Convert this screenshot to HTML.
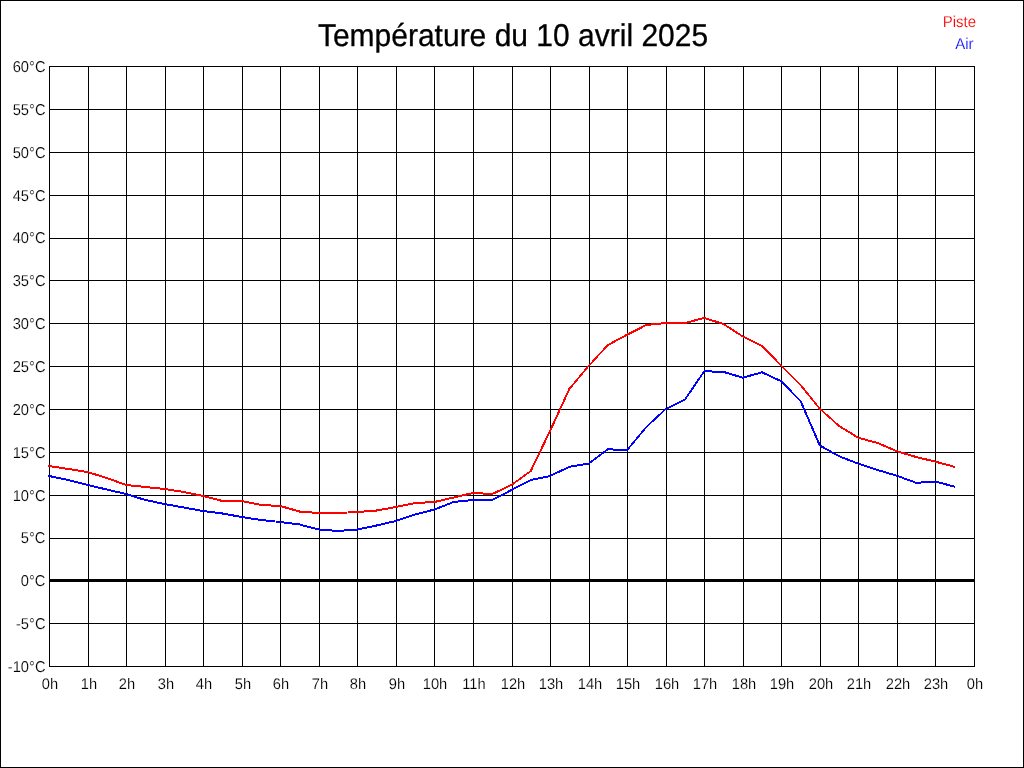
<!DOCTYPE html><html><head><meta charset="utf-8"><style>html,body{margin:0;padding:0;background:#fff;width:1024px;height:768px;overflow:hidden}svg{display:block}</style></head><body><svg width="1024" height="768" viewBox="0 0 1024 768" font-family="Liberation Sans, sans-serif"><rect x="0.5" y="0.5" width="1023" height="767" fill="#fff" stroke="#000" stroke-width="1" shape-rendering="crispEdges"/><path d="M49.5 66V667M88.5 66V667M126.5 66V667M165.5 66V667M203.5 66V667M242.5 66V667M280.5 66V667M319.5 66V667M357.5 66V667M396.5 66V667M434.5 66V667M473.5 66V667M512.5 66V667M550.5 66V667M589.5 66V667M627.5 66V667M666.5 66V667M704.5 66V667M743.5 66V667M781.5 66V667M820.5 66V667M858.5 66V667M897.5 66V667M935.5 66V667M974.5 66V667M49 66.5H975M49 109.5H975M49 152.5H975M49 195.5H975M49 238.5H975M49 280.5H975M49 323.5H975M49 366.5H975M49 409.5H975M49 452.5H975M49 495.5H975M49 538.5H975M49 623.5H975M49 666.5H975" stroke="#000" stroke-width="1" fill="none" shape-rendering="crispEdges"/><rect x="49" y="579" width="926" height="3" fill="#000" shape-rendering="crispEdges"/><g style="will-change:transform" text-rendering="geometricPrecision" font-size="15" fill="#000" stroke="#fff" stroke-width="0.15"><text transform="translate(45.5,72) scale(0.98,1.05)" text-anchor="end">60°C</text><text transform="translate(45.5,115) scale(0.98,1.05)" text-anchor="end">55°C</text><text transform="translate(45.5,158) scale(0.98,1.05)" text-anchor="end">50°C</text><text transform="translate(45.5,201) scale(0.98,1.05)" text-anchor="end">45°C</text><text transform="translate(45.5,243) scale(0.98,1.05)" text-anchor="end">40°C</text><text transform="translate(45.5,286) scale(0.98,1.05)" text-anchor="end">35°C</text><text transform="translate(45.5,329) scale(0.98,1.05)" text-anchor="end">30°C</text><text transform="translate(45.5,372) scale(0.98,1.05)" text-anchor="end">25°C</text><text transform="translate(45.5,415) scale(0.98,1.05)" text-anchor="end">20°C</text><text transform="translate(45.5,458) scale(0.98,1.05)" text-anchor="end">15°C</text><text transform="translate(45.5,501) scale(0.98,1.05)" text-anchor="end">10°C</text><text transform="translate(45.5,543) scale(0.98,1.05)" text-anchor="end">5°C</text><text transform="translate(45.5,586) scale(0.98,1.05)" text-anchor="end">0°C</text><text transform="translate(45.5,629) scale(0.98,1.05)" text-anchor="end">-5°C</text><text transform="translate(45.5,672) scale(0.98,1.05)" text-anchor="end">-10°C</text><text transform="translate(50,689) scale(0.98,1.02)" text-anchor="middle">0h</text><text transform="translate(89,689) scale(0.98,1.02)" text-anchor="middle">1h</text><text transform="translate(127,689) scale(0.98,1.02)" text-anchor="middle">2h</text><text transform="translate(166,689) scale(0.98,1.02)" text-anchor="middle">3h</text><text transform="translate(204,689) scale(0.98,1.02)" text-anchor="middle">4h</text><text transform="translate(243,689) scale(0.98,1.02)" text-anchor="middle">5h</text><text transform="translate(281,689) scale(0.98,1.02)" text-anchor="middle">6h</text><text transform="translate(320,689) scale(0.98,1.02)" text-anchor="middle">7h</text><text transform="translate(358,689) scale(0.98,1.02)" text-anchor="middle">8h</text><text transform="translate(397,689) scale(0.98,1.02)" text-anchor="middle">9h</text><text transform="translate(435,689) scale(0.98,1.02)" text-anchor="middle">10h</text><text transform="translate(474,689) scale(0.98,1.02)" text-anchor="middle">11h</text><text transform="translate(513,689) scale(0.98,1.02)" text-anchor="middle">12h</text><text transform="translate(551,689) scale(0.98,1.02)" text-anchor="middle">13h</text><text transform="translate(590,689) scale(0.98,1.02)" text-anchor="middle">14h</text><text transform="translate(628,689) scale(0.98,1.02)" text-anchor="middle">15h</text><text transform="translate(667,689) scale(0.98,1.02)" text-anchor="middle">16h</text><text transform="translate(705,689) scale(0.98,1.02)" text-anchor="middle">17h</text><text transform="translate(744,689) scale(0.98,1.02)" text-anchor="middle">18h</text><text transform="translate(782,689) scale(0.98,1.02)" text-anchor="middle">19h</text><text transform="translate(821,689) scale(0.98,1.02)" text-anchor="middle">20h</text><text transform="translate(859,689) scale(0.98,1.02)" text-anchor="middle">21h</text><text transform="translate(898,689) scale(0.98,1.02)" text-anchor="middle">22h</text><text transform="translate(936,689) scale(0.98,1.02)" text-anchor="middle">23h</text><text transform="translate(975,689) scale(0.98,1.02)" text-anchor="middle">0h</text></g><g style="will-change:transform" text-rendering="geometricPrecision" stroke="#fff" stroke-width="0.15"><text transform="translate(513,46) scale(1,1.05)" font-size="30" text-anchor="middle" fill="#000" stroke="#000" stroke-width="0.3">Température du 10 avril 2025</text><text transform="translate(976,27) scale(1,1.05)" font-size="15" text-anchor="end" fill="#f00">Piste</text><text transform="translate(973.5,49) scale(1,1.05)" font-size="15" text-anchor="end" fill="#00f">Air</text></g><path d="M49.00 475.50L68.27 479.50M49.00 476.50L68.27 480.50M68.27 479.50L87.54 484.50M68.27 480.50L87.54 485.50M87.54 484.50L106.81 489.00M87.54 485.50L106.81 490.00M106.81 489.00L126.08 493.50M106.81 490.00L126.08 494.50M126.08 493.50L145.35 499.50M126.08 494.50L145.35 500.50M145.35 499.50L164.62 503.50M145.35 500.50L164.62 504.50M164.62 503.50L183.90 507.00M164.62 504.50L183.90 508.00M183.90 507.00L203.17 510.50M183.90 508.00L203.17 511.50M203.17 510.50L222.44 513.00M203.17 511.50L222.44 514.00M222.44 513.00L241.71 516.50M222.44 514.00L241.71 517.50M241.71 516.50L260.98 519.50M241.71 517.50L260.98 520.50M260.98 519.50L280.25 521.50M260.98 520.50L280.25 522.50M280.25 521.50L299.52 524.00M280.25 522.50L299.52 525.00M299.52 524.00L318.79 529.00M299.52 525.00L318.79 530.00M318.79 529.00L338.06 530.50M318.79 530.00L338.06 531.50M338.06 530.50L357.33 529.00M338.06 531.50L357.33 530.00M357.33 529.00L376.60 525.00M357.33 530.00L376.60 526.00M376.60 525.00L395.88 520.50M376.60 526.00L395.88 521.50M395.88 520.50L415.15 514.00M395.88 521.50L415.15 515.00M415.15 514.00L434.42 509.00M415.15 515.00L434.42 510.00M434.42 509.00L453.69 501.50M434.42 510.00L453.69 502.50M453.69 501.50L472.96 499.50M453.69 502.50L472.96 500.50M472.96 499.50L492.23 499.50M472.96 500.50L492.23 500.50M492.23 499.50L511.50 489.50M492.23 500.50L511.50 490.50M511.50 489.50L530.77 479.50M511.50 490.50L530.77 480.50M530.77 479.50L550.04 475.50M530.77 480.50L550.04 476.50M550.04 475.50L569.31 466.30M550.04 476.50L569.31 467.30M569.31 466.30L588.58 463.10M569.31 467.30L588.58 464.10M588.58 463.10L607.85 448.80M588.58 464.10L607.85 449.80M607.85 448.80L627.12 449.50M607.85 449.80L627.12 450.50M626.62 450.00L645.90 427.00M627.62 450.00L646.90 427.00M646.40 426.50L665.67 408.50M646.40 427.50L665.67 409.50M665.67 408.50L684.94 399.10M665.67 409.50L684.94 400.10M684.44 399.60L703.71 371.25M685.44 399.60L704.71 371.25M704.21 370.75L723.48 371.40M704.21 371.75L723.48 372.40M723.48 371.40L742.75 377.20M723.48 372.40L742.75 378.20M742.75 377.20L762.02 371.80M742.75 378.20L762.02 372.80M762.02 371.80L781.29 380.75M762.02 372.80L781.29 381.75M780.79 381.25L800.06 401.00M781.79 381.25L801.06 401.00M800.06 401.00L819.33 445.50M801.06 401.00L820.33 445.50M819.83 445.00L839.10 455.75M819.83 446.00L839.10 456.75M839.10 455.75L858.38 463.25M839.10 456.75L858.38 464.25M858.38 463.25L877.65 469.50M858.38 464.25L877.65 470.50M877.65 469.50L896.92 475.30M877.65 470.50L896.92 476.30M896.92 475.30L916.19 482.30M896.92 476.30L916.19 483.30M916.19 482.30L935.46 481.10M916.19 483.30L935.46 482.10M935.46 481.10L954.73 486.20M935.46 482.10L954.73 487.20" fill="none" stroke="#00f" stroke-width="1" stroke-linecap="square" shape-rendering="crispEdges"/><path d="M49.00 465.50L68.27 468.50M49.00 466.50L68.27 469.50M68.27 468.50L87.54 471.50M68.27 469.50L87.54 472.50M87.54 471.50L106.81 477.50M87.54 472.50L106.81 478.50M106.81 477.50L126.08 484.50M106.81 478.50L126.08 485.50M126.08 484.50L145.35 486.50M126.08 485.50L145.35 487.50M145.35 486.50L164.62 488.50M145.35 487.50L164.62 489.50M164.62 488.50L183.90 491.50M164.62 489.50L183.90 492.50M183.90 491.50L203.17 495.50M183.90 492.50L203.17 496.50M203.17 495.50L222.44 500.50M203.17 496.50L222.44 501.50M222.44 500.50L241.71 500.50M222.44 501.50L241.71 501.50M241.71 500.50L260.98 504.50M241.71 501.50L260.98 505.50M260.98 504.50L280.25 505.50M260.98 505.50L280.25 506.50M280.25 505.50L299.52 511.00M280.25 506.50L299.52 512.00M299.52 511.00L318.79 512.50M299.52 512.00L318.79 513.50M318.79 512.50L338.06 512.50M318.79 513.50L338.06 513.50M338.06 512.50L357.33 511.50M338.06 513.50L357.33 512.50M357.33 511.50L376.60 510.00M357.33 512.50L376.60 511.00M376.60 510.00L395.88 506.50M376.60 511.00L395.88 507.50M395.88 506.50L415.15 502.50M395.88 507.50L415.15 503.50M415.15 502.50L434.42 501.50M415.15 503.50L434.42 502.50M434.42 501.50L453.69 497.00M434.42 502.50L453.69 498.00M453.69 497.00L472.96 492.50M453.69 498.00L472.96 493.50M472.96 492.50L492.23 493.50M472.96 493.50L492.23 494.50M492.23 493.50L511.50 484.50M492.23 494.50L511.50 485.50M511.50 484.50L530.77 470.50M511.50 485.50L530.77 471.50M530.27 471.00L549.54 431.00M531.27 471.00L550.54 431.00M549.54 431.00L568.81 389.00M550.54 431.00L569.81 389.00M568.81 389.00L588.08 366.00M569.81 389.00L589.08 366.00M588.08 366.00L607.35 345.00M589.08 366.00L608.35 345.00M607.85 344.50L627.12 334.20M607.85 345.50L627.12 335.20M627.12 334.20L646.40 324.50M627.12 335.20L646.40 325.50M646.40 324.50L665.67 322.50M646.40 325.50L665.67 323.50M665.67 322.50L684.94 322.50M665.67 323.50L684.94 323.50M684.94 322.50L704.21 317.50M684.94 323.50L704.21 318.50M704.21 317.50L723.48 323.50M704.21 318.50L723.48 324.50M723.48 323.50L742.75 336.00M723.48 324.50L742.75 337.00M742.75 336.00L762.02 345.50M742.75 337.00L762.02 346.50M761.52 346.00L780.79 365.60M762.52 346.00L781.79 365.60M780.79 365.60L800.06 385.00M781.79 365.60L801.06 385.00M800.06 385.00L819.33 408.80M801.06 385.00L820.33 408.80M819.83 408.30L839.10 425.50M819.83 409.30L839.10 426.50M839.10 425.50L858.38 437.30M839.10 426.50L858.38 438.30M858.38 437.30L877.65 442.50M858.38 438.30L877.65 443.50M877.65 442.50L896.92 450.75M877.65 443.50L896.92 451.75M896.92 450.75L916.19 456.50M896.92 451.75L916.19 457.50M916.19 456.50L935.46 461.20M916.19 457.50L935.46 462.20M935.46 461.20L954.73 466.40M935.46 462.20L954.73 467.40" fill="none" stroke="#f00" stroke-width="1" stroke-linecap="square" shape-rendering="crispEdges"/></svg></body></html>
